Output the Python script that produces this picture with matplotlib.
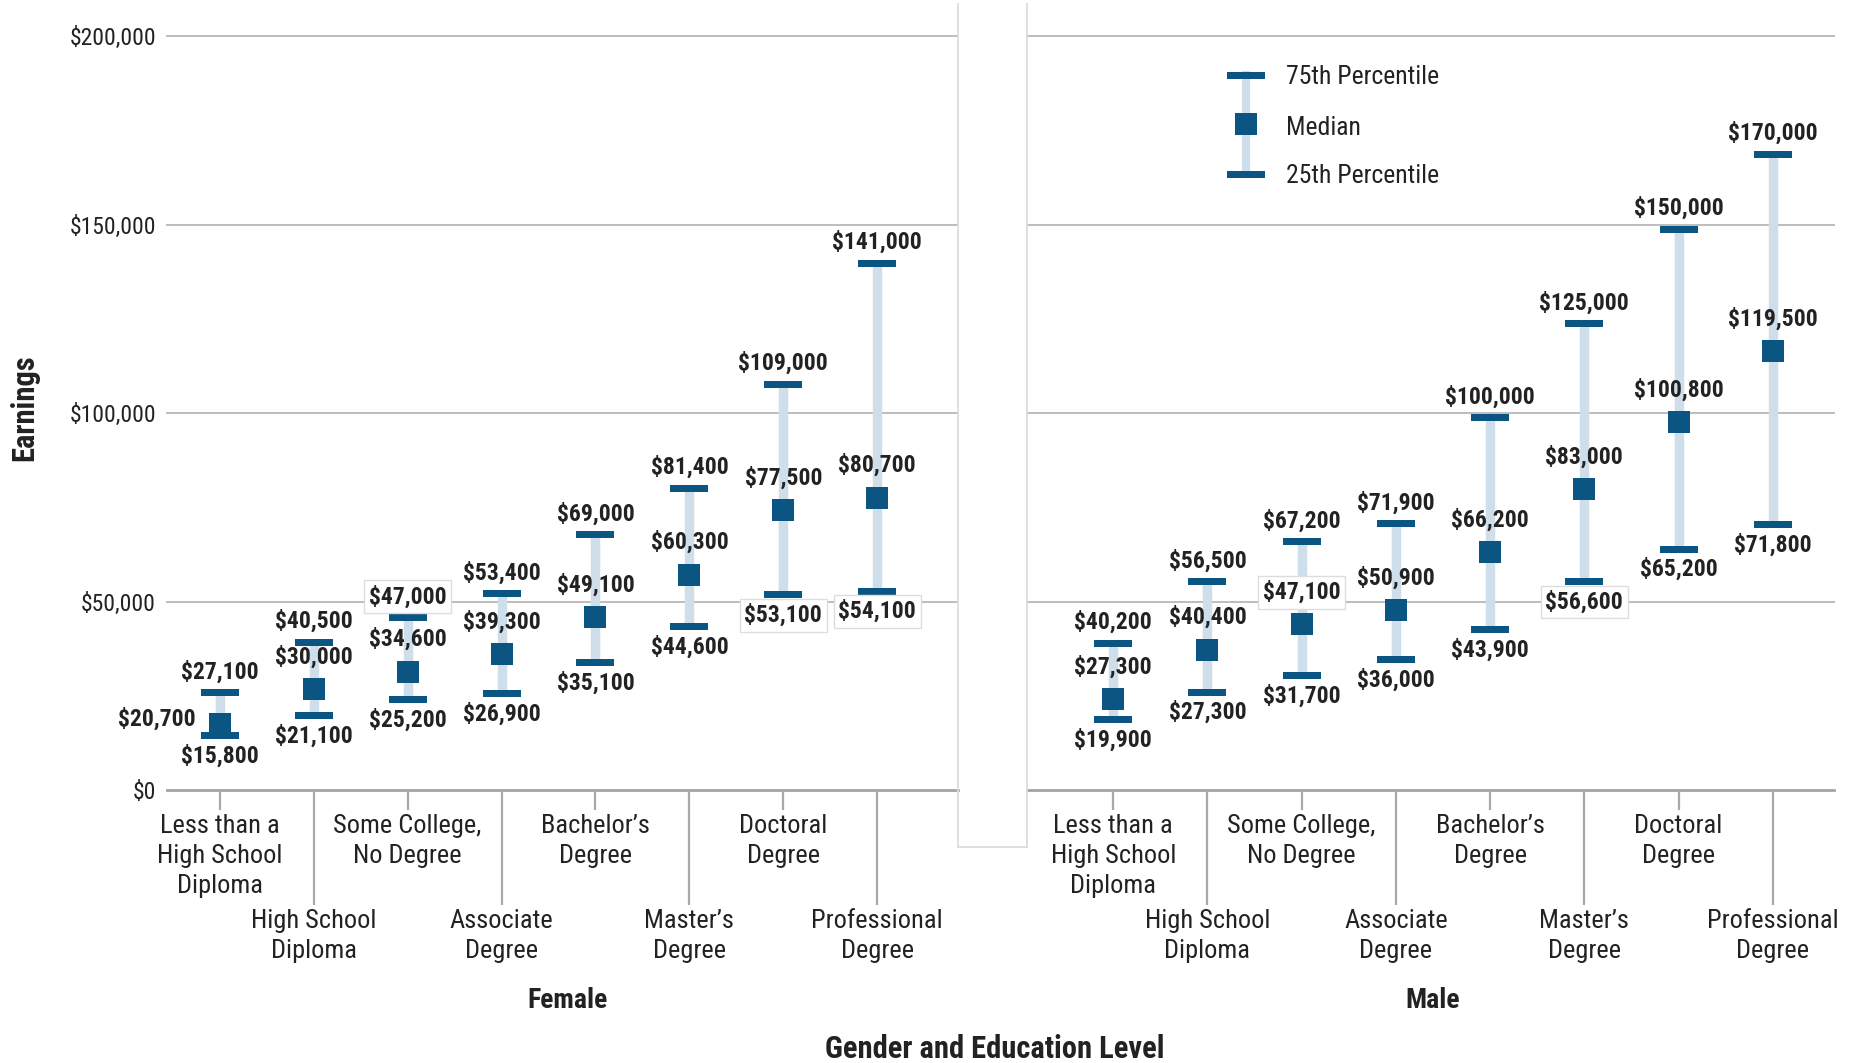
import matplotlib
matplotlib.use('Agg')
import matplotlib.pyplot as plt
from matplotlib import font_manager as fm
from matplotlib.transforms import offset_copy
from matplotlib.lines import Line2D

# ---------------- data ----------------
categories = ["Less than a\nHigh School\nDiploma", "High School\nDiploma",
              "Some College,\nNo Degree", "Associate\nDegree",
              "Bachelor\u2019s\nDegree", "Master\u2019s\nDegree",
              "Doctoral\nDegree", "Professional\nDegree"]
genders = ["Female", "Male"]
female_p25 = [15800, 21100, 25200, 26900, 35100, 44600, 53100, 54100]
female_median = [20700, 30000, 34600, 39300, 49100, 60300, 77500, 80700]
female_p75 = [27100, 40500, 47000, 53400, 69000, 81400, 109000, 141000]
male_p25 = [19900, 27300, 31700, 36000, 43900, 56600, 65200, 71800]
male_median = [27300, 40400, 47100, 50900, 66200, 83000, 100800, 119500]
male_p75 = [40200, 56500, 67200, 71900, 100000, 125000, 150000, 170000]
y_ticks = [0, 50000, 100000, 150000, 200000]
y_tick_labels = ["$0", "$50,000", "$100,000", "$150,000", "$200,000"]
legend_labels = ["75th Percentile", "Median", "25th Percentile"]
x_title = "Gender and Education Level"
y_title = "Earnings"

# ---------------- fonts ----------------
avail = {f.name for f in fm.fontManager.ttflist}
narrow = None
for cand in ['Roboto Condensed', 'Liberation Sans Narrow', 'Noto Sans Condensed',
             'Open Sans Condensed', 'DejaVu Sans Condensed']:
    if cand in avail:
        narrow = cand
        break
if narrow is None:
    plt.rcParams['font.family'] = ['DejaVu Sans']
    plt.rcParams['font.stretch'] = 'condensed'
else:
    plt.rcParams['font.family'] = [narrow, 'DejaVu Sans']

DARK = '#0b5583'
LIGHT = '#cfdeeb'
GRID = '#bdbdbd'
TXT = '#222222'

W, H = 1851, 1063
DPI = 100
fig = plt.figure(figsize=(W / DPI, H / DPI), dpi=DPI)


def rect(x0, x1, ytop, ybot):
    return [x0 / W, 1 - ybot / H, (x1 - x0) / W, (ybot - ytop) / H]


axL = fig.add_axes(rect(167, 958, 36, 790))
axR = fig.add_axes(rect(1027, 1834, 36, 790))
axes = [axL, axR]
xlims = [(-0.562, 7.86), (-0.915, 7.65)]
data = [(female_p25, female_median, female_p75), (male_p25, male_median, male_p75)]

bar_marker = [(-19, -3.5), (19, -3.5), (19, 3.5), (-19, 3.5), (-19, -3.5)]
BAR_MS = 38 * 0.72
SQ_MS = 22 * 0.72
LBL_FS = 17
CAT_FS = 19
px_per_pt = DPI / 72.0

for k, ax in enumerate(axes):
    p25, med, p75 = data[k]
    xs = list(range(len(categories)))
    ax.set_xlim(*xlims[k])
    ax.set_ylim(0, 200000)
    for s in ax.spines.values():
        s.set_visible(False)
    ax.set_facecolor('none')
    for g in y_ticks[1:]:
        ax.axhline(g, color=GRID, lw=1.4, zorder=1, clip_on=False)
    ax.axhline(0, color='#a3a3a3', lw=2.0, zorder=1, clip_on=False)

    # y ticks
    ax.set_yticks(y_ticks)
    if k == 0:
        ax.set_yticklabels(y_tick_labels, fontsize=17, color=TXT)
    else:
        ax.set_yticklabels([])
    ax.tick_params(axis='y', length=0, pad=8)

    # x ticks: alternating short / long
    ax.set_xticks(xs[0::2])
    ax.set_xticklabels(categories[0::2], fontsize=CAT_FS, color=TXT, linespacing=1.31)
    ax.set_xticks(xs[1::2], minor=True)
    ax.set_xticklabels(categories[1::2], minor=True, fontsize=CAT_FS, color=TXT, linespacing=1.31)
    ax.tick_params(axis='x', which='major', length=14.5, width=1.6, color='#a8a8a8', pad=3)
    ax.tick_params(axis='x', which='minor', length=82.8, width=1.6, color='#a8a8a8', pad=3)

    bar_tr = offset_copy(ax.transData, fig=fig, x=0, y=-4.5, units='dots')
    sq_tr = offset_copy(ax.transData, fig=fig, x=0, y=-12, units='dots')

    # range lines
    ax.vlines(xs, p25, p75, color=LIGHT, lw=6.8, zorder=2, transform=bar_tr)
    ax.plot(xs, p75, ls='none', marker=bar_marker, ms=BAR_MS, mew=0, color=DARK,
            transform=bar_tr, zorder=3, clip_on=False)
    ax.plot(xs, p25, ls='none', marker=bar_marker, ms=BAR_MS, mew=0, color=DARK,
            transform=bar_tr, zorder=3, clip_on=False)
    ax.plot(xs, med, ls='none', marker='s', ms=SQ_MS, mew=0, color=DARK,
            transform=sq_tr, zorder=4, clip_on=False)

    grid_px = [ax.transData.transform((0, g))[1] for g in y_ticks[1:]]

    def label(x, v, dx, dy, ha='center'):
        ypix = ax.transData.transform((x, v))[1] + dy * px_per_pt
        boxed = any(abs(ypix - gp) < 14.5 for gp in grid_px)
        kw = {}
        if boxed:
            kw['bbox'] = dict(boxstyle='square,pad=0.2', fc='white', ec='#dddddd', lw=1.0)
        ax.annotate(f"${v:,.0f}", xy=(x, v), xytext=(dx, dy), textcoords='offset points',
                    ha=ha, va='center', fontsize=LBL_FS, fontweight='bold', color=TXT,
                    zorder=6, annotation_clip=False, **kw)

    for i in xs:
        label(i, p75[i], 0, 11.5)
        label(i, p25[i], 0, -18.3)
        if p75[i] - med[i] < 8000:
            label(i, med[i], -17.3, -5, ha='right')
        else:
            label(i, med[i], 0, 14.5)

# gap strip between panels
strip_kw = dict(color='#dcdcdc', lw=1.3, transform=fig.transFigure)
fig.add_artist(Line2D([958 / W, 958 / W], [1 - 4 / H, 1 - 847 / H], **strip_kw))
fig.add_artist(Line2D([1027 / W, 1027 / W], [1 - 4 / H, 1 - 847 / H], **strip_kw))
fig.add_artist(Line2D([958 / W, 1027 / W], [1 - 847 / H, 1 - 847 / H], **strip_kw))

# facet & axis titles
fig.text(567 / W, 1 - 1001 / H, genders[0], ha='center', va='center', fontsize=20,
         fontweight='bold', color=TXT)
fig.text(1433 / W, 1 - 1001 / H, genders[1], ha='center', va='center', fontsize=20,
         fontweight='bold', color=TXT)
fig.text(995 / W, 1 - 1049 / H, x_title, ha='center', va='center', fontsize=22,
         fontweight='bold', color=TXT)
fig.text(24 / W, 1 - 408 / H, y_title, ha='center', va='center', rotation=90,
         fontsize=22, fontweight='bold', color=TXT)

# legend (inside male panel)
ax = axR
lx = ax.transAxes.inverted().transform((1246, H - 124))[0]
y75 = 1 - (74.5 - 36) / 754
ymd = 1 - (124 - 36) / 754
y25 = 1 - (174 - 36) / 754
ax.plot([lx, lx], [y75, y25], color=LIGHT, lw=6, transform=ax.transAxes, zorder=2, clip_on=False)
ax.plot([lx], [y75], marker=bar_marker, ms=BAR_MS, mew=0, color=DARK, transform=ax.transAxes,
        zorder=3, clip_on=False)
ax.plot([lx], [y25], marker=bar_marker, ms=BAR_MS, mew=0, color=DARK, transform=ax.transAxes,
        zorder=3, clip_on=False)
ax.plot([lx], [ymd], marker='s', ms=23 * 0.72, mew=0, color=DARK, transform=ax.transAxes,
        zorder=3, clip_on=False)
tx = ax.transAxes.inverted().transform((1286, 0))[0]
for yy, t, dy in zip([y75, ymd, y25], legend_labels, [-2, -4, -2]):
    ax.text(tx, yy, t, transform=offset_copy(ax.transAxes, fig=fig, x=0, y=dy, units='dots'),
            ha='left', va='center', fontsize=18.5, color=TXT)

fig.savefig('out.png', dpi=DPI, facecolor='white')
